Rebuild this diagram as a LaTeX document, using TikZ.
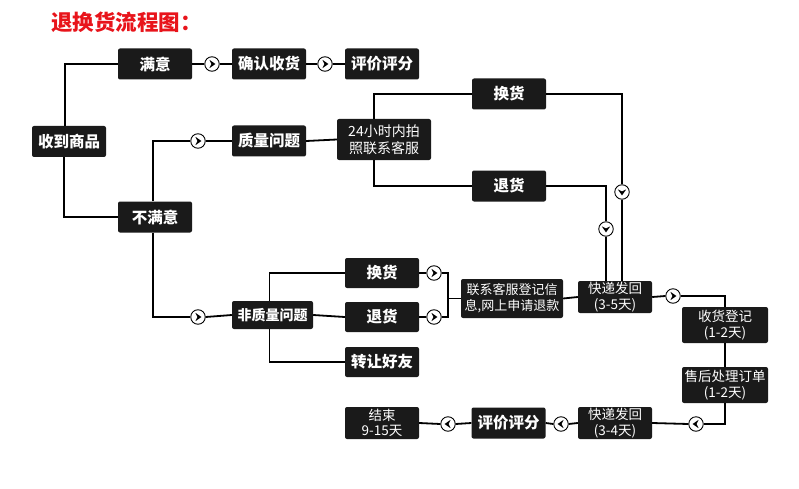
\documentclass[tikz,border=0pt]{standalone}
\usepackage{fontspec}
\newfontfamily\cjk{Noto Sans CJK SC}
\definecolor{boxc}{HTML}{1A1A1A}
\definecolor{titred}{HTML}{E8141B}
\usetikzlibrary{calc}
\begin{document}
\begin{tikzpicture}[x=1pt,y=-1pt,
  box/.style={fill=boxc, text=white, rounded corners=2pt, inner sep=0pt,
    minimum width=74pt, minimum height=31pt, align=center,
    font=\cjk\bfseries\fontsize{15.5}{17}\selectfont},
  box2/.style={box, font=\cjk\fontsize{13.5}{15.5}\selectfont},
  conn/.style={line width=1.8pt, black},
  circ/.style={circle, draw=black, fill=white, line width=0.9pt, minimum size=14.5pt, inner sep=0pt},
  cR/.style={circ, path picture={\begin{scope}[shift={(path picture bounding box.center)}]
     \fill[black] (-2.6pt,4.2pt) -- (3.4pt,0pt) -- (-2.6pt,-4.2pt) -- (-0.6pt,0pt) -- cycle;\end{scope}}},
  cL/.style={circ, path picture={\begin{scope}[shift={(path picture bounding box.center)}]
     \fill[black] (2.6pt,4.2pt) -- (-3.4pt,0pt) -- (2.6pt,-4.2pt) -- (0.6pt,0pt) -- cycle;\end{scope}}},
  cD/.style={circ, path picture={\begin{scope}[shift={(path picture bounding box.center)}]
     \fill[black] (-4.2pt,2.6pt) -- (0pt,-3.4pt) -- (4.2pt,2.6pt) -- (0pt,0.6pt) -- cycle;\end{scope}}},
]
\useasboundingbox (0,0) rectangle (799,489);
\fill[white] (0,0) rectangle (799,489);

\node[text=titred, font=\cjk\bfseries\fontsize{21.5}{23}\selectfont, inner sep=0pt, anchor=west] (title) at (51,22) {退换货流程图：};

% boxes
\node[box] (rec) at (69,141.5) {收到商品};
\node[box] (sat) at (155,64) {满意};
\node[box] (conf) at (269,64) {确认收货};
\node[box] (rate1) at (382,64) {评价评分};
\node[box] (unsat) at (155,217) {不满意};
\node[box] (qual) at (269,141) {质量问题};
\node[box2, minimum width=94pt, minimum height=41pt, font=\cjk\fontsize{14}{17}\selectfont] (photo) at (384,139.5) {24小时内拍\\照联系客服};
\node[box] (exch1) at (509,94) {换货};
\node[box] (ret1) at (509,186) {退货};
\node[box, minimum width=81pt, minimum height=28pt, font=\cjk\bfseries\fontsize{14}{16}\selectfont] (nonq) at (272.5,315) {非质量问题};
\node[box, minimum height=30pt] (exch2) at (382,273) {换货};
\node[box, minimum height=30pt] (ret2) at (382,317) {退货};
\node[box, minimum height=30pt] (gift) at (382,362) {转让好友};
\node[box2, minimum width=102pt, minimum height=39pt, font=\cjk\fontsize{13}{16}\selectfont] (cs) at (512,298.5) {联系客服登记信\\息,网上申请退款};
\node[box2, minimum height=32pt] (ex1) at (615,297) {快递发回\\(3-5天)};
\node[box2, minimum width=86pt, minimum height=36pt] (recv) at (725,325) {收货登记\\(1-2天)};
\node[box2, minimum width=86pt, minimum height=36pt] (after) at (725,385) {售后处理订单\\(1-2天)};
\node[box2, minimum height=32pt] (ex2) at (615,423) {快递发回\\(3-4天)};
\node[box] (rate2) at (508.5,423) {评价评分};
\node[box2, minimum height=32pt] (end) at (382,423) {结束\\9-15天};

% circles
\node[cR] (c1) at (212,64) {};
\node[cR] (c2) at (325,64) {};
\node[cR] (c3) at (198,141) {};
\node[cR] (c4) at (198,317) {};
\node[cD] (d1) at (622,192) {};
\node[cD] (d2) at (606,229) {};
\node[cR] (c5) at (434,273) {};
\node[cR] (c6) at (434,317) {};
\node[cR] (c7) at (673,296) {};
\node[cL] (l1) at (696,424) {};
\node[cL] (l2) at (561,424) {};
\node[cL] (l3) at (448,424) {};
\coordinate (j) at (448,298.5);

% connectors
\draw[conn] ([xshift=-4pt]rec.north) |- (sat.west);
\draw[conn] ([xshift=-5pt]rec.south) |- (unsat.west);
\draw[conn] (sat.east) -- (c1.west);
\draw[conn] (c1.east) -- (conf.west);
\draw[conn] (conf.east) -- (c2.west);
\draw[conn] (c2.east) -- (rate1.west);
\draw[conn] ([xshift=-2pt]unsat.north) |- (c3.west);
\draw[conn] (c3.east) -- (qual.west);
\draw[conn] ([xshift=-2pt]unsat.south) |- (c4.west);
\draw[conn] (c4.east) -- (nonq.west);
\draw[conn] (qual.east) -- (photo.west);
\draw[conn] ([xshift=-10pt]photo.north) |- (exch1.west);
\draw[conn] ([xshift=-10pt]photo.south) |- (ret1.west);
\draw[conn] (exch1.east) -| (d1.north);
\draw[conn] (d1.south) -- (d1 |- ex1.north);
\draw[conn] (ret1.east) -| (d2.north);
\draw[conn] (d2.south) -- (d2 |- ex1.north);
\draw[conn] ([xshift=-3pt]nonq.north) |- (exch2.west);
\draw[conn] (nonq.east) -- (ret2.west);
\draw[conn] ([xshift=-3pt]nonq.south) |- (gift.west);
\draw[conn] (exch2.east) -- (c5.west);
\draw[conn] (ret2.east) -- (c6.west);
\draw[conn] (c5.east) -| (j);
\draw[conn] (c6.east) -| (j);
\draw[conn] (j) -- (cs.west);
\draw[conn] (cs.east) -- (ex1.west);
\draw[conn] (ex1.east) -- (c7.west);
\draw[conn] (c7.east) -| (recv.north);
\draw[conn] (recv.south) -- (after.north);
\draw[conn] (after.south) |- (l1.east);
\draw[conn] (l1.west) -- (ex2.east);
\draw[conn] (ex2.west) -- (l2.east);
\draw[conn] (l2.west) -- (rate2.east);
\draw[conn] (rate2.west) -- (l3.east);
\draw[conn] (l3.west) -- (end.east);
\end{tikzpicture}
\end{document}
